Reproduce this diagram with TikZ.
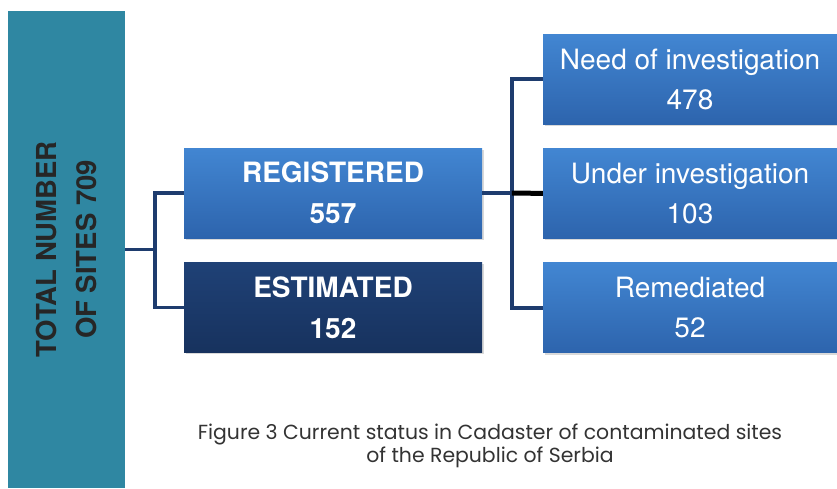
\documentclass[tikz,border=0pt]{standalone}
\usepackage{fontspec}
\setmainfont{TeX Gyre Heros}
\newfontfamily\capfont{Poppins}
\usetikzlibrary{positioning,shadows}
\definecolor{barteal}{HTML}{2F87A2}
\definecolor{boxtop}{HTML}{4286D2}
\definecolor{boxbot}{HTML}{2D64AD}
\definecolor{navytop}{HTML}{1F4176}
\definecolor{navybot}{HTML}{17325E}
\definecolor{linknavy}{HTML}{1E3C6E}

\begin{document}
\begin{tikzpicture}[x=1pt,y=-1pt,node distance=24pt]
	\tikzstyle{box}=[minimum height=90pt, inner sep=0pt, text=white, align=center, top color=boxtop, bottom color=boxbot, drop shadow={shadow xshift=2pt, shadow yshift=-2pt, opacity=.3}]
	\tikzstyle{leftbox}=[box, minimum width=298pt, font=\bfseries\fontsize{28}{41}\selectfont]
	\tikzstyle{rightbox}=[box, minimum width=294pt, font=\fontsize{28}{40}\selectfont]
	\tikzstyle{link}=[draw=linknavy, line width=3.5pt]
	\useasboundingbox (0,0) rectangle (837,488);

	% total column
	\node[fill=barteal, rotate=90, minimum width=477pt, minimum height=117pt, inner sep=0pt, align=center, text=black!85, font=\bfseries\fontsize{27.5}{40}\selectfont] (total) at (66.5,249.5) {TOTAL NUMBER\\OF SITES 709};

	\node[leftbox] (reg) at (333,193) {REGISTERED\\557};
	\node[leftbox, below=of reg, top color=navytop, bottom color=navybot] (est) {ESTIMATED\\152};

	\node[rightbox] (need) at (690,79) {Need of investigation\\478};
	\node[rightbox, below=of need] (under) {Under investigation\\103};
	\node[rightbox, below=of under] (rem) {Remediated\\52};

	\draw[link] (reg.west) -- ++(-29,0) coordinate (split1) |- (est.west);
	\draw[link] (total.south) -- (total.south -| split1);
	\draw[link] (need.west) -- ++(-31,0) coordinate (split2) |- (rem.west);
	\draw[link] (reg.east) -- (reg.east -| split2);
	\draw[black, line width=5pt] (reg.east -| split2) -- (under.west);

	\node[align=center, text=black!80, font=\capfont\fontsize{20.4}{23}\selectfont] (caption) at (490,446) {Figure 3 Current status in Cadaster of contaminated sites\\of the Republic of Serbia};
\end{tikzpicture}
\end{document}
